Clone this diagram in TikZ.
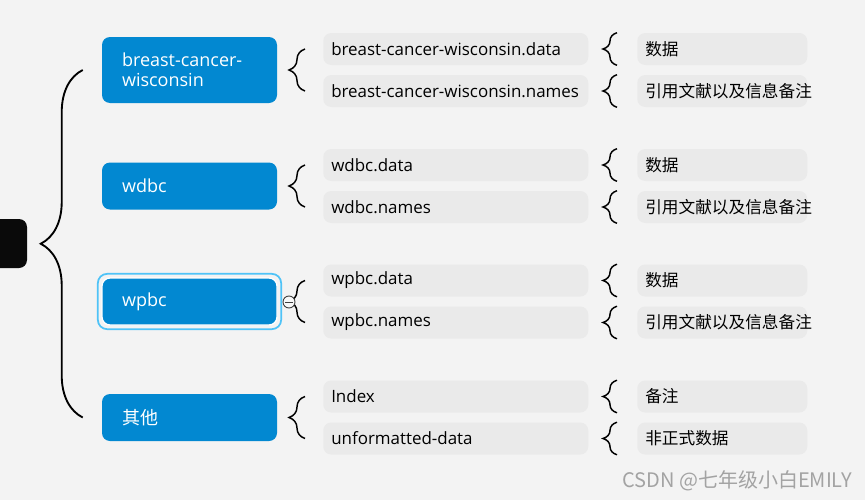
\documentclass[tikz,border=0pt]{standalone}
\usepackage{fontspec}
\setmainfont{Open Sans}
\newfontfamily\cjk{Noto Sans CJK SC}
\usetikzlibrary{decorations.pathreplacing}
\definecolor{bgc}{HTML}{F3F3F3}
\definecolor{topicblue}{HTML}{0288D1}
\definecolor{ringblue}{HTML}{4FC3F7}
\definecolor{leafgrey}{HTML}{EAEAEA}
\definecolor{markgrey}{HTML}{A3A3A3}
\tikzset{
	topic/.style={fill=topicblue, text=white, rounded corners=6pt, text width=101.25pt, inner xsep=15pt, align=left, minimum height=35.25pt, font=\fontsize{13.5}{15}\selectfont},
	picked/.style={topic, draw=white, line width=1pt},
	leaf/.style={fill=leafgrey, rounded corners=6pt, text width=186.75pt, inner xsep=6pt, align=left, minimum height=24pt, anchor=west, font=\fontsize{12.7}{15}\selectfont},
	note/.style={leaf, text width=115.5pt, font=\fontsize{12.5}{15}\selectfont},
	curly/.style={decorate, decoration={brace, amplitude=#1}, line width=1.1pt},
}
\begin{document}
\begin{tikzpicture}[x=0.75pt, y=-0.75pt]
	\useasboundingbox [fill=bgc] (0,0) rectangle (865,500);
	% root and topics
	\node [fill=black!96, rounded corners=6pt, minimum width=40.5pt, minimum height=36.75pt] (root) at (0,243.5) {};
	\node [topic, minimum height=49.5pt] (g1) at (189.5,70) {breast-cancer-\\wisconsin};
	\node [topic] (g2) at (189.5,186) {wdbc};
	\node [picked] (g3) at (189.5,301.5) {wpbc};
	\node [topic] (g4) at (189.5,417.5) {\cjk 其他};
	\draw [ringblue, line width=1.3pt, rounded corners=7pt] ([shift={(-3.5,-3.5)}]g3.north west) rectangle ([shift={(3.5,3.5)}]g3.south east);
	% files
	\node [leaf] (f11) at (323,49) {breast-cancer-wisconsin.data};
	\node [leaf] (f12) at (323,91) {breast-cancer-wisconsin.names};
	\node [leaf] (f21) at (323,165) {wdbc.data};
	\node [leaf] (f22) at (323,207) {wdbc.names};
	\node [leaf] (f31) at (323,280.5) {wpbc.data};
	\node [leaf] (f32) at (323,322.5) {wpbc.names};
	\node [leaf] (f41) at (323,396.5) {Index};
	\node [leaf] (f42) at (323,438.5) {unformatted-data};
	% notes
	\node [note] (n11) at (637,49) {\cjk 数据};
	\node [note] (n12) at (637,91) {\cjk 引用文献以及信息备注};
	\node [note] (n21) at (637,165) {\cjk 数据};
	\node [note] (n22) at (637,207) {\cjk 引用文献以及信息备注};
	\node [note] (n31) at (637,280.5) {\cjk 数据};
	\node [note] (n32) at (637,322.5) {\cjk 引用文献以及信息备注};
	\node [note] (n41) at (637,396.5) {\cjk 备注};
	\node [note] (n42) at (637,438.5) {\cjk 非正式数据};
	% braces
	\draw [curly=31.5pt, line width=1.4pt] ([xshift=-14.25pt]g4.west) -- ([xshift=-14.25pt]g1.west);
	\draw [curly=12pt] ([xshift=-13.5pt]f12.west) -- ([xshift=-13.5pt]f11.west);
	\draw [curly=12pt] ([xshift=-13.5pt]f22.west) -- ([xshift=-13.5pt]f21.west);
	\draw [curly=12pt] ([xshift=-13.5pt]f32.west) -- ([xshift=-13.5pt]f31.west);
	\draw [curly=12pt] ([xshift=-13.5pt]f42.west) -- ([xshift=-13.5pt]f41.west);
	\draw [curly=10.5pt] ([xshift=-15pt]n11.south west) -- ([xshift=-15pt]n11.north west);
	\draw [curly=10.5pt] ([xshift=-15pt]n12.south west) -- ([xshift=-15pt]n12.north west);
	\draw [curly=10.5pt] ([xshift=-15pt]n21.south west) -- ([xshift=-15pt]n21.north west);
	\draw [curly=10.5pt] ([xshift=-15pt]n22.south west) -- ([xshift=-15pt]n22.north west);
	\draw [curly=10.5pt] ([xshift=-15pt]n31.south west) -- ([xshift=-15pt]n31.north west);
	\draw [curly=10.5pt] ([xshift=-15pt]n32.south west) -- ([xshift=-15pt]n32.north west);
	\draw [curly=10.5pt] ([xshift=-15pt]n41.south west) -- ([xshift=-15pt]n41.north west);
	\draw [curly=10.5pt] ([xshift=-15pt]n42.south west) -- ([xshift=-15pt]n42.north west);
	% fold mark on wpbc
	\node [circle, draw=black!75, fill=bgc!60!white, line width=0.7pt, minimum size=9pt, inner sep=0pt] (fold) at (289,302) {};
	\draw [black!75, line width=0.7pt] ([xshift=2pt]fold.west) -- ([xshift=-2pt]fold.east);
	% watermark
	\node [text=markgrey, font=\cjk\fontsize{15}{18}\selectfont] (mark) at (737,481) {CSDN @七年级小白EMILY};
\end{tikzpicture}
\end{document}
